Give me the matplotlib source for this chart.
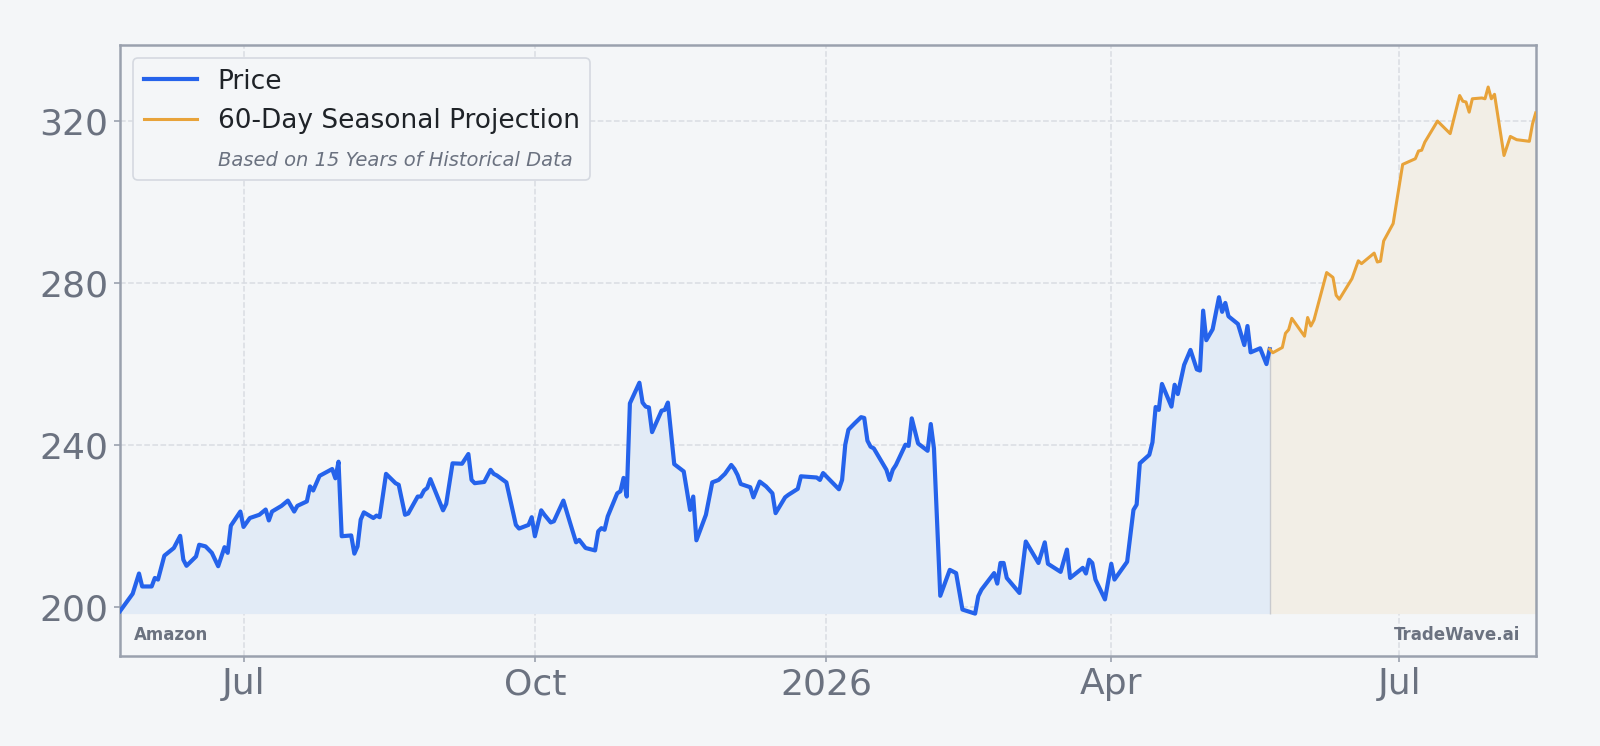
import matplotlib
matplotlib.use("Agg")
import matplotlib.pyplot as plt
import matplotlib.dates as mdates
from matplotlib.lines import Line2D
from matplotlib.ticker import MultipleLocator, FuncFormatter
import pandas as pd

# ---------------- data ----------------
price_dates = [
    "2025-05-23", "2025-05-27", "2025-05-29", "2025-05-30", "2025-06-02", "2025-06-03", "2025-06-04",
    "2025-06-06", "2025-06-09", "2025-06-11", "2025-06-12", "2025-06-13", "2025-06-16", "2025-06-17",
    "2025-06-19", "2025-06-21", "2025-06-23", "2025-06-25", "2025-06-26", "2025-06-27", "2025-06-30",
    "2025-07-01", "2025-07-03", "2025-07-06", "2025-07-08", "2025-07-09", "2025-07-10", "2025-07-13",
    "2025-07-15", "2025-07-17", "2025-07-18", "2025-07-21", "2025-07-22", "2025-07-23", "2025-07-25",
    "2025-07-29", "2025-07-30", "2025-07-31", "2025-08-01", "2025-08-04", "2025-08-05", "2025-08-06",
    "2025-08-07", "2025-08-08", "2025-08-11", "2025-08-12", "2025-08-13", "2025-08-15", "2025-08-18",
    "2025-08-19", "2025-08-21", "2025-08-22", "2025-08-25", "2025-08-26", "2025-08-27", "2025-08-28",
    "2025-08-29", "2025-09-02", "2025-09-03", "2025-09-05", "2025-09-08", "2025-09-10", "2025-09-11",
    "2025-09-12", "2025-09-15", "2025-09-17", "2025-09-18", "2025-09-19", "2025-09-22", "2025-09-25",
    "2025-09-26", "2025-09-29", "2025-09-30", "2025-10-01", "2025-10-03", "2025-10-04", "2025-10-06",
    "2025-10-07", "2025-10-10", "2025-10-12", "2025-10-14", "2025-10-15", "2025-10-17", "2025-10-20",
    "2025-10-21", "2025-10-22", "2025-10-23", "2025-10-24", "2025-10-27", "2025-10-28", "2025-10-29",
    "2025-10-30", "2025-10-31", "2025-11-03", "2025-11-04", "2025-11-05", "2025-11-06", "2025-11-07",
    "2025-11-10", "2025-11-11", "2025-11-12", "2025-11-14", "2025-11-17", "2025-11-19", "2025-11-20",
    "2025-11-21", "2025-11-24", "2025-11-26", "2025-11-28", "2025-11-30", "2025-12-02", "2025-12-03",
    "2025-12-04", "2025-12-05", "2025-12-08", "2025-12-09", "2025-12-11", "2025-12-13", "2025-12-15",
    "2025-12-16", "2025-12-19", "2025-12-20", "2025-12-23", "2025-12-24", "2025-12-29", "2025-12-30",
    "2025-12-31", "2026-01-05", "2026-01-06", "2026-01-07", "2026-01-08", "2026-01-10", "2026-01-12",
    "2026-01-13", "2026-01-14", "2026-01-15", "2026-01-16", "2026-01-20", "2026-01-21", "2026-01-22",
    "2026-01-23", "2026-01-26", "2026-01-27", "2026-01-28", "2026-01-30", "2026-02-02", "2026-02-03",
    "2026-02-04", "2026-02-06", "2026-02-09", "2026-02-11", "2026-02-13", "2026-02-17", "2026-02-18",
    "2026-02-19", "2026-02-23", "2026-02-24", "2026-02-25", "2026-02-26", "2026-02-27", "2026-03-03",
    "2026-03-05", "2026-03-09", "2026-03-11", "2026-03-12", "2026-03-16", "2026-03-18", "2026-03-19",
    "2026-03-23", "2026-03-24", "2026-03-25", "2026-03-26", "2026-03-27", "2026-03-30", "2026-04-01",
    "2026-04-02", "2026-04-06", "2026-04-08", "2026-04-09", "2026-04-10", "2026-04-13", "2026-04-14",
    "2026-04-15", "2026-04-16", "2026-04-17", "2026-04-20", "2026-04-21", "2026-04-22", "2026-04-24",
    "2026-04-26", "2026-04-28", "2026-04-29", "2026-04-30", "2026-05-01", "2026-05-03", "2026-05-05",
    "2026-05-06", "2026-05-07", "2026-05-08", "2026-05-11", "2026-05-13", "2026-05-14", "2026-05-15",
    "2026-05-18", "2026-05-20", "2026-05-21",
]
price_values = [
    198.9, 203.2, 208.2, 205.0, 205.0, 207.1, 206.7,
    212.6, 214.5, 217.5, 211.6, 210.1, 212.4, 215.3,
    214.9, 213.3, 210.0, 214.7, 213.3, 220.0, 223.5,
    219.7, 221.9, 222.7, 224.0, 221.3, 223.5, 224.9,
    226.2, 223.5, 224.9, 226.0, 229.7, 228.7, 232.3,
    234.0, 231.7, 235.8, 217.4, 217.6, 213.1, 214.9,
    221.5, 223.3, 221.9, 222.5, 222.1, 232.8, 230.5,
    230.1, 222.7, 223.0, 227.2, 227.2, 228.7, 229.3,
    231.5, 223.8, 225.4, 235.4, 235.3, 237.7, 231.3,
    230.5, 230.8, 233.8, 232.8, 232.4, 230.7, 220.2,
    219.3, 220.2, 222.1, 217.4, 223.8, 222.7, 220.8,
    221.1, 226.2, 221.0, 215.9, 216.5, 214.5, 213.9,
    218.6, 219.4, 219.0, 222.3, 228.0, 228.5, 231.8,
    227.2, 250.2, 255.3, 250.4, 249.4, 249.2, 243.1,
    248.4, 248.6, 250.4, 235.2, 233.4, 223.9, 227.2,
    216.4, 222.7, 230.7, 231.3, 232.8, 235.0, 234.0,
    232.5, 230.3, 229.5, 227.0, 230.9, 229.7, 228.0,
    223.1, 227.0, 227.6, 229.1, 232.2, 231.9, 231.3,
    233.0, 229.0, 231.3, 240.0, 243.7, 245.3, 246.8,
    246.6, 241.0, 239.5, 239.1, 233.8, 231.3, 233.8,
    235.0, 240.0, 239.7, 246.5, 240.3, 238.5, 245.1,
    239.1, 202.7, 209.1, 208.3, 199.3, 198.3, 202.6,
    204.2, 208.3, 205.7, 210.8, 210.8, 207.1, 203.4,
    216.1, 210.8, 215.9, 210.6, 208.6, 214.1, 207.1,
    209.6, 208.2, 211.6, 210.8, 206.7, 201.8, 210.6,
    206.7, 211.1, 223.9, 225.2, 235.4, 237.5, 240.6,
    249.3, 248.6, 255.0, 249.4, 254.8, 252.5, 259.7,
    263.4, 258.6, 258.3, 273.1, 265.8, 268.5, 276.4,
    272.8, 275.0, 271.7, 269.8, 264.6, 269.3, 262.8,
    263.8, 259.9, 263.6,
]

proj_dates = [
    "2026-05-21", "2026-05-22", "2026-05-25", "2026-05-26", "2026-05-27", "2026-05-28", "2026-06-01",
    "2026-06-02", "2026-06-03", "2026-06-04", "2026-06-08", "2026-06-10", "2026-06-11", "2026-06-12",
    "2026-06-16", "2026-06-18", "2026-06-19", "2026-06-21", "2026-06-23", "2026-06-24", "2026-06-25",
    "2026-06-26", "2026-06-29", "2026-06-30", "2026-07-02", "2026-07-06", "2026-07-07", "2026-07-08",
    "2026-07-09", "2026-07-13", "2026-07-17", "2026-07-20", "2026-07-21", "2026-07-22", "2026-07-23",
    "2026-07-24", "2026-07-27", "2026-07-28", "2026-07-29", "2026-07-30", "2026-07-31", "2026-08-03",
    "2026-08-05", "2026-08-07", "2026-08-11", "2026-08-12", "2026-08-13",
]
proj_values = [
    263.6, 262.7, 264.0, 267.5, 268.4, 271.2, 266.8,
    271.4, 269.3, 270.8, 282.5, 281.3, 276.9, 275.9,
    281.0, 285.4, 284.7, 286.0, 287.3, 285.1, 285.3,
    290.3, 294.6, 299.5, 309.2, 310.6, 312.5, 312.7,
    314.7, 319.9, 316.8, 326.2, 324.8, 324.6, 322.1,
    325.4, 325.6, 325.4, 328.3, 325.4, 326.5, 311.4,
    316.1, 315.3, 314.9, 319.2, 321.9,
]

legend_labels = ["Price", "60-Day Seasonal Projection", "Based on 15 Years of Historical Data"]
left_note = "Amazon"
right_note = "TradeWave.ai"

# ---------------- style ----------------
BG = "#f4f6f8"
BLUE = "#2563eb"
ORANGE = "#e8a33a"
GRAY_TXT = "#6b7280"
GRID = "#d9dce2"
SPINE = "#9aa1ae"

px = pd.to_datetime(price_dates)
pj = pd.to_datetime(proj_dates)

fig = plt.figure(figsize=(8, 3.73), dpi=200, facecolor=BG)
ax = fig.add_axes([0.075, 0.121, 0.8848, 0.8188])
ax.set_facecolor(BG)

all_vals = price_values + proj_values
lo, hi = min(all_vals), max(all_vals)
pad = 0.08 * (hi - lo)
base = lo

ax.fill_between(px, price_values, base, color="#e2ebf6", lw=0, zorder=1)
ax.fill_between(pj, proj_values, base, color="#f2eee6", lw=0, zorder=1)
ax.vlines(px[-1], base, price_values[-1], color="#b8bcc4", lw=0.5, alpha=0.7, zorder=2)

ax.plot(px, price_values, color=BLUE, lw=1.5, zorder=3, solid_joinstyle="round")
ax.plot(pj, proj_values, color=ORANGE, lw=1.1, zorder=3, solid_joinstyle="round")

ax.set_xlim(px[0], pj[-1])
ax.set_ylim(lo - pad, hi + pad)

ax.yaxis.set_major_locator(MultipleLocator(40))
ax.yaxis.set_major_formatter(FuncFormatter(lambda v, p: f"{v:.0f}"))
ax.xaxis.set_major_locator(mdates.MonthLocator(bymonth=[1, 4, 7, 10]))


def _fmt(x, pos):
    d = mdates.num2date(x)
    return str(d.year) if d.month == 1 else d.strftime("%b")


ax.xaxis.set_major_formatter(FuncFormatter(_fmt))

ax.grid(True, color=GRID, lw=0.55, linestyle="--", zorder=0)
ax.set_axisbelow(True)
for s in ax.spines.values():
    s.set_color(SPINE)
    s.set_linewidth(0.9)

ax.tick_params(axis="both", colors=SPINE, labelcolor=GRAY_TXT, labelsize=13, length=2.2, width=0.6, pad=2)

handles = [
    Line2D([], [], color=BLUE, lw=1.5),
    Line2D([], [], color=ORANGE, lw=1.1),
    Line2D([], [], color="none", lw=0),
]
leg = ax.legend(handles, legend_labels, loc="upper left", fontsize=9.5, frameon=True,
                facecolor=BG, edgecolor="#d5d9e0", framealpha=1.0, fancybox=True)
leg.get_frame().set_linewidth(0.6)
for t in leg.get_texts()[:2]:
    t.set_color("#1f2328")
sub = leg.get_texts()[2]
sub.set_fontsize(7)
sub.set_fontstyle("italic")
sub.set_color(GRAY_TXT)

ax.text(0.01, 0.02, left_note, transform=ax.transAxes, ha="left", va="bottom",
        fontsize=6, fontweight="bold", color=GRAY_TXT)
ax.text(0.989, 0.02, right_note, transform=ax.transAxes, ha="right", va="bottom",
        fontsize=6, fontweight="bold", color=GRAY_TXT)

fig.savefig("out.png", dpi=200, facecolor=BG)
